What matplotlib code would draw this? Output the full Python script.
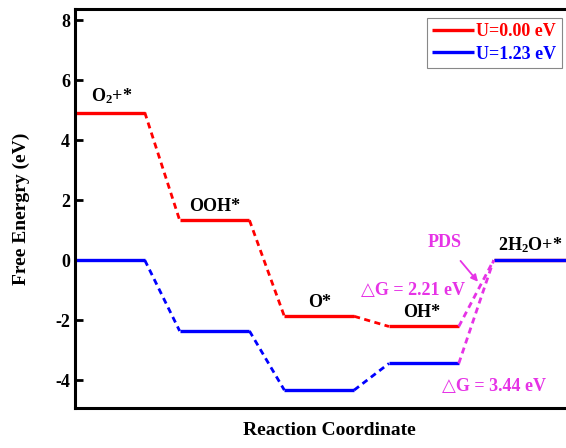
import matplotlib
matplotlib.use("Agg")
import matplotlib.pyplot as plt

# Free energy levels of each intermediate (eV)
states = ["O$_2$+*", "OOH*", "O*", "OH*", "2H$_2$O+*"]
g_u000 = [4.92, 1.33, -1.87, -2.21, 0.00]   # U = 0.00 V
g_u123 = [0.00, -2.36, -4.33, -3.44, 0.00]  # U = 1.23 V
yticks = [-4, -2, 0, 2, 4, 6, 8]

RED = "#FF0000"
BLUE = "#0000FF"
MAG = "#E633E6"

plt.rcParams["font.family"] = ["Liberation Serif", "DejaVu Serif"]
plt.rcParams["font.weight"] = "bold"
plt.rcParams["mathtext.fontset"] = "custom"
plt.rcParams["mathtext.rm"] = "Liberation Serif:bold"
plt.rcParams["mathtext.it"] = "Liberation Serif:bold"
plt.rcParams["mathtext.bf"] = "Liberation Serif:bold"
plt.rcParams["mathtext.default"] = "rm"

fig = plt.figure(figsize=(5.66, 4.48), dpi=100)
ax = fig.add_axes([0.1325, 0.089, 0.9, 0.891])

level_w = 2.0
step = 3.0

def draw_profile(g, color, label):
    n = len(g)
    for i, v in enumerate(g):
        x0 = i * step
        x1 = x0 + level_w if i < n - 1 else x0 + level_w + 1.0
        ax.plot([x0, x1], [v, v], color=color, lw=2.4, solid_capstyle="butt",
                label=label if i == 0 else None)
    for i in range(n - 1):
        c = MAG if i == n - 2 else color
        ax.plot([i * step + level_w, (i + 1) * step], [g[i], g[i + 1]],
                color=c, lw=2.0, ls=(0, (2.2, 1.6)))

draw_profile(g_u000, RED, "U=0.00 eV")
draw_profile(g_u123, BLUE, "U=1.23 eV")

# State labels above the U=0.00 levels
label_dx = [0.45, 1.0, 1.0, 0.95, 1.05]
for i, (name, v) in enumerate(zip(states, g_u000)):
    if i == 0:
        ax.text(i * step + label_dx[i], v + 0.22, name, ha="left", va="bottom",
                fontsize=13, fontweight="bold")
    else:
        ax.text(i * step + label_dx[i], v + 0.18, name, ha="center", va="bottom",
                fontsize=13, fontweight="bold")

# Potential-determining step annotations
dg1 = g_u000[4] - g_u000[3]
dg2 = g_u123[4] - g_u123[3]
ax.text(9.7, -1.0, f"\u25b3G = {dg1:.2f} eV", color=MAG, ha="center",
        va="center", fontsize=13, fontweight="bold")
ax.text(12.0, -4.2, f"\u25b3G = {dg2:.2f} eV", color=MAG, ha="center",
        va="center", fontsize=13, fontweight="bold")
ax.annotate("PDS", xy=(11.55, -0.72), xytext=(10.6, 0.6), color=MAG,
            ha="center", va="center", fontsize=13, fontweight="bold",
            arrowprops=dict(arrowstyle="-|>", color=MAG, lw=1.3,
                            mutation_scale=10, shrinkA=7, shrinkB=0))

ax.set_xlim(0, 14.6)
ax.set_ylim(-4.93, 8.37)
ax.set_yticks(yticks)
ax.set_yticklabels([str(t) for t in yticks])
ax.set_xticks([])
ax.tick_params(axis="y", direction="in", length=6, width=2, labelsize=13)
for lab in ax.get_yticklabels():
    lab.set_fontweight("bold")
for s in ax.spines.values():
    s.set_linewidth(2.2)
ax.spines["right"].set_visible(False)

ax.set_ylabel("Free Energry (eV)", fontsize=14, fontweight="bold", labelpad=18)
ax.set_xlabel("Reaction Coordinate", fontsize=14, fontweight="bold", labelpad=10)

leg = ax.legend(loc="upper right", bbox_to_anchor=(0.993, 0.96),
                bbox_transform=fig.transFigure, fontsize=13,
                handlelength=2.3, handletextpad=0.15, borderpad=0.3,
                labelspacing=0.3, fancybox=False, framealpha=1,
                edgecolor="#888888", borderaxespad=0.0)
leg.get_frame().set_linewidth(0.8)
for txt, c in zip(leg.get_texts(), [RED, BLUE]):
    txt.set_color(c)
    txt.set_fontweight("bold")

fig.savefig("out.png", dpi=100)
